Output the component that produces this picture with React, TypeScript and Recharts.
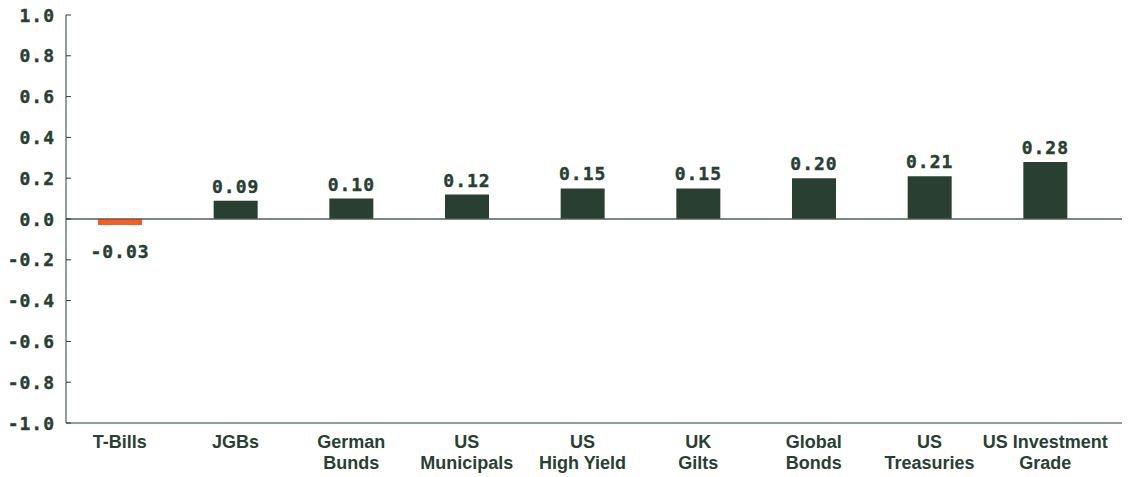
import { Bar, BarChart, Cell, LabelList, ReferenceLine, XAxis, YAxis } from 'recharts'

const categories = [
  'T-Bills',
  'JGBs',
  'German\nBunds',
  'US\nMunicipals',
  'US\nHigh Yield',
  'UK\nGilts',
  'Global\nBonds',
  'US\nTreasuries',
  'US Investment\nGrade',
]
const values = [-0.03, 0.09, 0.1, 0.12, 0.15, 0.15, 0.2, 0.21, 0.28]
const yTicks = [-1, -0.8, -0.6, -0.4, -0.2, 0, 0.2, 0.4, 0.6, 0.8, 1]

const ink = '#283f33'
const positiveColor = '#283f32'
const negativeColor = '#ff5a1f'
const monoFont = '"DejaVu Sans Mono", monospace'
const labelFont = '"Liberation Sans", Arial, sans-serif'

const data = categories.map((name, i) => ({ name, value: values[i] }))

function YTick({ x, y, payload }: any) {
  const axisX = x + 12
  return (
    <g>
      <line x1={axisX} x2={axisX + 5} y1={y} y2={y} stroke={ink} strokeWidth={1} />
      <text
        x={x + 1}
        y={y}
        dy={6.5}
        textAnchor="end"
        fill={ink}
        stroke={ink}
        strokeWidth={0.4}
        fontFamily={monoFont}
        fontWeight={700}
        fontSize={18}
        letterSpacing={1}
      >
        {Number(payload.value).toFixed(1)}
      </text>
    </g>
  )
}

function XTick({ x, y, payload }: any) {
  const lines = String(payload.value).split('\n')
  return (
    <text
      x={x}
      y={y + 23}
      textAnchor="middle"
      fill={ink}
      fontFamily={labelFont}
      fontWeight={700}
      fontSize={18}
    >
      {lines.map((line, i) => (
        <tspan key={line} x={x} dy={i === 0 ? 0 : 21}>
          {line}
        </tspan>
      ))}
    </text>
  )
}

function ValueLabel({ x, y, width, height, value }: any) {
  const top = Math.min(y, y + height)
  const bottom = Math.max(y, y + height)
  const negative = value < 0
  return (
    <text
      x={x + width / 2}
      y={negative ? bottom + 33 : top - 8}
      textAnchor="middle"
      fill={ink}
      stroke={ink}
      strokeWidth={0.4}
      fontFamily={monoFont}
      fontWeight={700}
      fontSize={18}
      letterSpacing={1}
    >
      {Number(value).toFixed(2)}
    </text>
  )
}

export default function App() {
  return (
    <div style={{ position: 'absolute', left: 0, top: 0, background: '#fff' }}>
      <BarChart
        width={1128}
        height={477}
        data={data}
        margin={{ top: 15, right: 6, bottom: 4, left: 0 }}
      >
        <XAxis
          dataKey="name"
          interval={0}
          height={50}
          padding={{ left: -4, right: 19 }}
          axisLine={{ stroke: ink, strokeWidth: 1 }}
          tickLine={false}
          tickSize={0}
          tick={<XTick />}
        />
        <YAxis
          domain={[-1, 1]}
          ticks={yTicks}
          width={66}
          axisLine={{ stroke: ink, strokeWidth: 1 }}
          tickLine={false}
          tickSize={0}
          tickMargin={12}
          tick={<YTick />}
        />
        <ReferenceLine y={0} stroke="#4d6158" strokeWidth={1.5} />
        <Bar dataKey="value" barSize={44} isAnimationActive={false}>
          {data.map((d) => (
            <Cell key={d.name} fill={d.value < 0 ? negativeColor : positiveColor} />
          ))}
          <LabelList dataKey="value" content={<ValueLabel />} />
        </Bar>
      </BarChart>
    </div>
  )
}
